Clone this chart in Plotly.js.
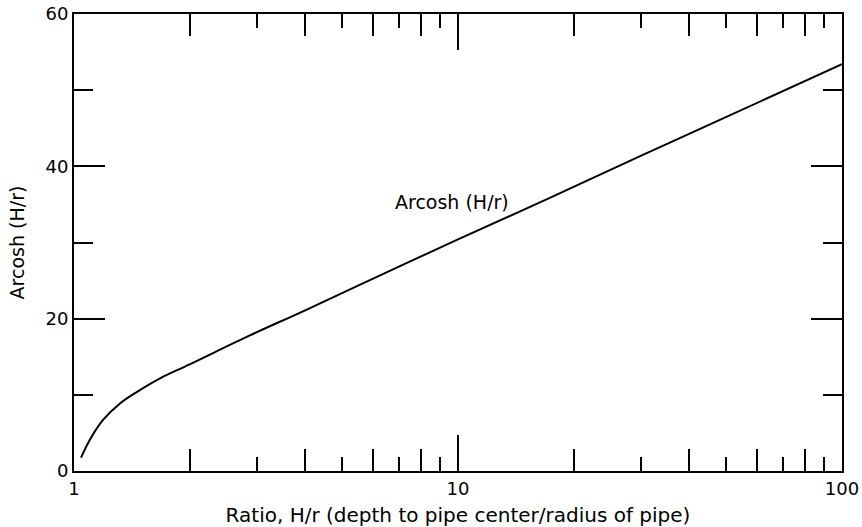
<!DOCTYPE html>
<html>
<head>
<meta charset="utf-8">
<script src="https://cdn.plot.ly/plotly-3.0.1.min.js"></script>
<style>html,body{margin:0;padding:0;background:#fff;}#chart{width:862px;height:527px;}</style>
</head>
<body>
<div id="chart"></div>
<script>
// Values
const ratioHr = [1.043, 1.10, 1.19, 1.32, 1.46, 1.68, 2.0, 2.87, 4.0, 7.06, 10, 17.4, 30, 50, 100];
const arcoshVals = [1.75, 4.1, 6.7, 8.9, 10.4, 12.2, 14.0, 17.8, 21.1, 26.9, 30.4, 35.9, 41.4, 46.5, 53.4];

const xMajorTicks = [1, 10, 100];
const xMajorLabels = ["1", "10", "100"];
const xEvenMinor = [2, 4, 6, 8, 20, 40, 60, 80];
const xOddMinor = [3, 5, 7, 9, 30, 50, 70, 90];
const yMajorTicks = [0, 20, 40, 60];
const yMajorLabels = ["0", "20", "40", "60"];
const yMinorTicks = [10, 30, 50];

const curveLabel = "Arcosh (H/r)";
const xTitle = "Ratio, H/r (depth to pipe center/radius of pipe)";
const yTitle = "Arcosh (H/r)";

const FONT = "DejaVu Sans, sans-serif";
const xRange = [0, 2];
const yRange = [0, 60];

const trace = {
  x: ratioHr, y: arcoshVals, type: "scatter", mode: "lines",
  line: {color: "#000", width: 2, shape: "spline", smoothing: 1},
  hoverinfo: "skip", showlegend: false
};

function xOverlay(vals, len) {
  return {type: "log", range: xRange, overlaying: "x", anchor: "y", side: "bottom",
    tickmode: "array", tickvals: vals, ticks: "inside", ticklen: len, tickwidth: 2,
    tickcolor: "#000", mirror: "ticks", showline: false, showticklabels: false,
    showgrid: false, zeroline: false, fixedrange: true};
}

const layout = {
  width: 862, height: 527,
  margin: {l: 74, r: 20, t: 14, b: 56},
  paper_bgcolor: "#fff", plot_bgcolor: "#fff",
  font: {family: FONT, color: "#000", size: 18},
  showlegend: false,
  xaxis: {
    type: "log", range: xRange, tickmode: "array", tickvals: xMajorTicks, ticktext: xMajorLabels,
    ticks: "inside", ticklen: 36, tickwidth: 2, tickcolor: "#000",
    showline: true, linecolor: "#000", linewidth: 2, mirror: "ticks",
    showgrid: false, zeroline: false, fixedrange: true,
    tickfont: {family: FONT, size: 18, color: "#000"},
    title: {text: xTitle, font: {family: FONT, size: 20, color: "#000"}, standoff: 10}
  },
  xaxis2: xOverlay(xEvenMinor, 22),
  xaxis3: xOverlay(xOddMinor, 14),
  yaxis: {
    range: yRange, tickmode: "array", tickvals: yMajorTicks, ticktext: yMajorLabels,
    ticks: "inside", ticklen: 31, tickwidth: 2, tickcolor: "#000",
    showline: true, linecolor: "#000", linewidth: 2, mirror: "ticks",
    showgrid: false, zeroline: false, fixedrange: true,
    tickfont: {family: FONT, size: 18, color: "#000"},
    title: {text: yTitle, font: {family: FONT, size: 19, color: "#000"}, standoff: 16}
  },
  yaxis2: {
    range: yRange, overlaying: "y", anchor: "x", side: "left",
    tickmode: "array", tickvals: yMinorTicks, ticks: "inside", ticklen: 19, tickwidth: 2,
    tickcolor: "#000", mirror: "ticks", showline: false, showticklabels: false,
    showgrid: false, zeroline: false, fixedrange: true
  },
  annotations: [{
    text: curveLabel, xref: "paper", yref: "paper", x: 0.492, y: 0.589,
    xanchor: "center", yanchor: "middle", showarrow: false,
    font: {family: FONT, size: 19, color: "#000"}
  }]
};

const dummyX2 = {x: [], y: [], xaxis: "x2", yaxis: "y", type: "scatter", mode: "lines", showlegend: false, hoverinfo: "skip"};
const dummyX3 = {x: [], y: [], xaxis: "x3", yaxis: "y", type: "scatter", mode: "lines", showlegend: false, hoverinfo: "skip"};
const dummyY2 = {x: [], y: [], xaxis: "x", yaxis: "y2", type: "scatter", mode: "lines", showlegend: false, hoverinfo: "skip"};

Plotly.newPlot("chart", [trace, dummyX2, dummyX3, dummyY2], layout, {displayModeBar: false, staticPlot: true});
</script>
</body>
</html>
